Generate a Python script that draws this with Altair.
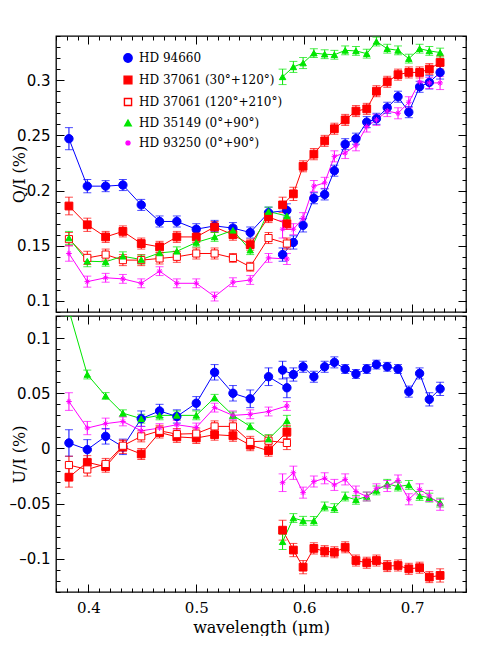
import altair as alt
import pandas as pd

# ---------------- data ----------------
series_names = ["HD 94660", "HD 37061 (30°+120°)", "HD 37061 (120°+210°)",
                "HD 35149 (0°+90°)", "HD 93250 (0°+90°)"]
stroke_colors = ["#0000ff", "#ff0000", "#ff0000", "#00e600", "#ff00ff"]
fill_colors = ["#0000ff", "#ff0000", "#ffffff", "#00e600", "#ff00ff"]
asterisk = "M-1,0L1,0M0,-1L0,1M-0.7,-0.7L0.7,0.7M-0.7,0.7L0.7,-0.7"
shapes = ["circle", "square", "square", "triangle-up", asterisk]
sizes = [70, 32, 30, 42, 100]
stroke_widths = [1, 1, 1.2, 1, 1.6]

# wavelengths (micron) of the blue-arm and red-arm points
wl_blue = [0.382, 0.399, 0.416, 0.432, 0.449, 0.466, 0.482, 0.500, 0.517, 0.534, 0.550, 0.567, 0.584]
wl_red = [0.580, 0.590, 0.599, 0.609, 0.619, 0.628, 0.638, 0.648, 0.658, 0.667, 0.677, 0.687,
          0.697, 0.707, 0.716, 0.726]

# Q/I (%)
q_94660_b = [0.247, 0.204, 0.204, 0.205, 0.187, 0.172, 0.172, 0.165, 0.168, 0.166, 0.162, 0.180, 0.182]
q_94660_r = [0.142, 0.153, 0.1685, 0.193, 0.1965, 0.218, 0.242, 0.247, 0.262, 0.265, 0.275, 0.285,
             0.271, 0.294, 0.298, 0.307]
q_37061a_b = [0.186, 0.169, 0.158, 0.163, 0.152, 0.149, 0.158, 0.158, 0.167, 0.160, 0.151, 0.176, 0.170]
q_37061a_r = [0.187, 0.197, 0.222, 0.233, 0.245, 0.256, 0.264, 0.272, 0.274, 0.290, 0.2985, 0.305,
              0.307, 0.307, 0.310, 0.316]
q_37061b_b = [0.156, 0.139, 0.142, 0.137, 0.137, 0.1385, 0.140, 0.143, 0.143, 0.139, 0.131, 0.157, 0.152]
q_35149_b = [0.157, 0.136, 0.1355, 0.1405, 0.1375, 0.1435, 0.145, 0.153, 0.158, 0.164, 0.146, 0.181, 0.177]
q_35149_r = [0.303, 0.312, 0.3155, 0.3245, 0.3235, 0.323, 0.327, 0.3265, 0.324, 0.335, 0.3285, 0.327,
             0.3195, 0.3285, 0.3265, 0.325]
q_93250_b = [0.143, 0.1175, 0.121, 0.120, 0.116, 0.127, 0.116, 0.116, 0.104, 0.117, 0.119, 0.139, 0.138]
q_93250_r = [0.165, 0.165, 0.175, 0.204, 0.207, 0.231, 0.234, 0.241, 0.258, 0.264, 0.272, 0.270,
             0.280, 0.2985, 0.2975, 0.2975]

# Q/I errors
eq_94660_b = [0.010, 0.006, 0.005, 0.005, 0.005, 0.005, 0.005, 0.005, 0.005, 0.005, 0.005, 0.005, 0.006]
eq_94660_r = [0.006, 0.006, 0.006, 0.005, 0.005, 0.005, 0.005, 0.005, 0.005, 0.005, 0.005, 0.005,
              0.005, 0.005, 0.006, 0.006]
eq_37061a_b = [0.008, 0.006, 0.005, 0.005, 0.005, 0.005, 0.005, 0.005, 0.005, 0.005, 0.005, 0.005, 0.005]
eq_37061a_r = [0.007, 0.006, 0.005, 0.005, 0.005, 0.005, 0.005, 0.005, 0.005, 0.005, 0.005, 0.005,
               0.005, 0.005, 0.005, 0.006]
eq_37061b_b = [0.006, 0.006, 0.005, 0.005, 0.005, 0.005, 0.005, 0.005, 0.005, 0.004, 0.004, 0.005, 0.005]
eq_35149_b = [0.006, 0.005, 0.004, 0.004, 0.004, 0.004, 0.004, 0.004, 0.004, 0.004, 0.004, 0.004, 0.004]
eq_35149_r = [0.007, 0.005, 0.005, 0.004, 0.004, 0.004, 0.004, 0.004, 0.004, 0.004, 0.004, 0.004,
              0.004, 0.004, 0.004, 0.004]
eq_93250_b = [0.007, 0.005, 0.004, 0.004, 0.004, 0.004, 0.004, 0.004, 0.004, 0.004, 0.004, 0.004, 0.005]
eq_93250_r = [0.008, 0.005, 0.005, 0.005, 0.005, 0.005, 0.005, 0.005, 0.005, 0.005, 0.005, 0.005,
              0.005, 0.005, 0.005, 0.006]

# U/I (%)
u_94660_b = [0.005, -0.001, 0.011, 0.0015, 0.027, 0.034, 0.029, 0.041, 0.069, 0.050, 0.045, 0.065, 0.055]
u_94660_r = [0.071, 0.067, 0.074, 0.065, 0.074, 0.078, 0.072, 0.0675, 0.072, 0.076, 0.074, 0.072,
             0.0515, 0.068, 0.0445, 0.054]
u_37061a_b = [-0.026, -0.0125, -0.0165, 0.0015, -0.005, 0.0145, 0.0105, 0.0095, 0.0125, 0.0115, 0.003,
              -0.002, 0.015]
u_37061a_r = [-0.074, -0.092, -0.1075, -0.0905, -0.093, -0.094, -0.0895, -0.1015, -0.1035, -0.1015,
              -0.1065, -0.106, -0.109, -0.108, -0.1165, -0.115]
u_37061b_b = [-0.015, -0.019, -0.014, 0.0025, 0.011, 0.016, 0.013, 0.0135, 0.020, 0.020, 0.006, 0.007, 0.005]
u_35149_b = [0.125, 0.067, 0.0476, 0.032, 0.027, 0.030, 0.030, 0.030, 0.046, 0.030, 0.020, 0.0085, 0.025]
u_35149_r = [-0.0845, -0.063, -0.0655, -0.0655, -0.0525, -0.054, -0.0435, -0.0465, -0.0435, -0.038,
             -0.032, -0.0345, -0.033, -0.043, -0.0445, -0.049]
u_93250_b = [0.0425, 0.0185, 0.0225, 0.0245, 0.016, 0.0185, 0.0215, 0.019, 0.037, 0.030, 0.031, 0.0335, 0.0385]
u_93250_r = [-0.031, -0.022, -0.040, -0.030, -0.027, -0.033, -0.028, -0.039, -0.0435, -0.036, -0.034,
             -0.029, -0.046, -0.037, -0.043, -0.051]

# U/I errors
eu_94660_b = [0.012, 0.009, 0.007, 0.007, 0.007, 0.006, 0.006, 0.006, 0.007, 0.007, 0.008, 0.008, 0.009]
eu_94660_r = [0.008, 0.006, 0.005, 0.005, 0.005, 0.005, 0.004, 0.004, 0.004, 0.004, 0.004, 0.004,
              0.005, 0.005, 0.006, 0.006]
eu_37061a_b = [0.009, 0.006, 0.005, 0.006, 0.005, 0.005, 0.005, 0.005, 0.005, 0.005, 0.005, 0.005, 0.006]
eu_37061a_r = [0.009, 0.006, 0.006, 0.005, 0.005, 0.005, 0.005, 0.005, 0.005, 0.005, 0.005, 0.005,
               0.005, 0.005, 0.005, 0.006]
eu_37061b_b = [0.008, 0.006, 0.005, 0.005, 0.005, 0.005, 0.005, 0.005, 0.005, 0.005, 0.005, 0.005, 0.006]
eu_35149_b = [0.005, 0.004, 0.003, 0.003, 0.004, 0.004, 0.004, 0.004, 0.003, 0.003, 0.003, 0.004, 0.005]
eu_35149_r = [0.007, 0.004, 0.004, 0.004, 0.004, 0.004, 0.004, 0.004, 0.004, 0.004, 0.004, 0.004,
              0.004, 0.004, 0.004, 0.004]
eu_93250_b = [0.008, 0.006, 0.005, 0.004, 0.004, 0.004, 0.004, 0.004, 0.004, 0.004, 0.004, 0.004, 0.004]
eu_93250_r = [0.008, 0.006, 0.005, 0.005, 0.005, 0.005, 0.005, 0.005, 0.004, 0.004, 0.005, 0.005,
              0.005, 0.005, 0.005, 0.005]

# axis tick values
x_major = [0.4, 0.5, 0.6, 0.7]
x_minor = [round(0.37 + 0.01 * i, 2) for i in range(39)]
yq_major = [0.1, 0.15, 0.2, 0.25, 0.3]
yq_minor = [round(0.09 + 0.01 * i, 2) for i in range(26)]
yu_major = [-0.1, -0.05, 0.0, 0.05, 0.1]
yu_minor = [round(-0.13 + 0.01 * i, 2) for i in range(26)]

# ---------------- table ----------------
rows = []
def add(name, arm, wls, q, eq, u, eu):
    for w, a, b, c, d in zip(wls, q, eq, u, eu):
        rows.append(dict(series=name, arm=arm, wl=w, q=a, eq=b, u=c, eu=d))

add(series_names[0], "b", wl_blue, q_94660_b, eq_94660_b, u_94660_b, eu_94660_b)
add(series_names[0], "r", wl_red, q_94660_r, eq_94660_r, u_94660_r, eu_94660_r)
add(series_names[1], "b", wl_blue, q_37061a_b, eq_37061a_b, u_37061a_b, eu_37061a_b)
add(series_names[1], "r", wl_red, q_37061a_r, eq_37061a_r, u_37061a_r, eu_37061a_r)
add(series_names[2], "b", wl_blue, q_37061b_b, eq_37061b_b, u_37061b_b, eu_37061b_b)
add(series_names[3], "b", wl_blue, q_35149_b, eq_35149_b, u_35149_b, eu_35149_b)
add(series_names[3], "r", wl_red, q_35149_r, eq_35149_r, u_35149_r, eu_35149_r)
add(series_names[4], "b", wl_blue, q_93250_b, eq_93250_b, u_93250_b, eu_93250_b)
add(series_names[4], "r", wl_red, q_93250_r, eq_93250_r, u_93250_r, eu_93250_r)
df = pd.DataFrame(rows)

# ---------------- chart ----------------
W, H = 410, 276
xscale = alt.Scale(domain=[0.37, 0.75], nice=False, zero=False)
stroke_scale = alt.Scale(domain=series_names, range=stroke_colors)
fill_scale = alt.Scale(domain=series_names, range=fill_colors)
shape_scale = alt.Scale(domain=series_names, range=shapes)
size_scale = alt.Scale(domain=series_names, range=sizes)
sw_scale = alt.Scale(domain=series_names, range=stroke_widths)


def tick_axis(orient, offset, values, size):
    return alt.Axis(orient=orient, offset=offset, values=values, tickSize=size, ticks=True,
                    labels=False, domain=False, grid=False, title=None,
                    tickColor="black", tickWidth=1)


def panel(val, err, ydomain, ymajor, yminor, ytitle, xlabels, legend):
    yscale = alt.Scale(domain=ydomain, nice=False, zero=False)
    base = alt.Chart(df).transform_calculate(
        lo=f"datum.{val} - datum.{err}", hi=f"datum.{val} + datum.{err}")
    X = alt.X("wl:Q", scale=xscale, axis=None)
    Y = alt.Y(f"{val}:Q", scale=yscale, axis=None)
    col = alt.Color("series:N", scale=stroke_scale, legend=None)

    lines = base.mark_line(strokeWidth=1, clip=True).encode(x=X, y=Y, color=col, detail="arm:N")
    bars = base.mark_rule(strokeWidth=1, clip=True).encode(
        x=X, y=alt.Y("lo:Q", scale=yscale, axis=None), y2="hi:Q", color=col)
    cap_lo = base.mark_tick(orient="horizontal", size=8, thickness=1, clip=True).encode(
        x=X, y=alt.Y("lo:Q", scale=yscale, axis=None), color=col)
    cap_hi = base.mark_tick(orient="horizontal", size=8, thickness=1, clip=True).encode(
        x=X, y=alt.Y("hi:Q", scale=yscale, axis=None), color=col)

    if legend:
        leg = alt.Legend(title=None, orient="none", legendX=66, legendY=16,
                         labelFont="DejaVu Serif", labelFontSize=12, labelColor="black",
                         rowPadding=8, labelOffset=5, symbolStrokeWidth=1.4)
    else:
        leg = None
    pts = base.mark_point(opacity=1, fillOpacity=1, clip=True).encode(
        x=X, y=Y,
        stroke=alt.Stroke("series:N", scale=stroke_scale, legend=leg),
        fill=alt.Fill("series:N", scale=fill_scale, legend=leg),
        shape=alt.Shape("series:N", scale=shape_scale, legend=leg),
        size=alt.Size("series:N", scale=size_scale, legend=leg),
        strokeWidth=alt.StrokeWidth("series:N", scale=sw_scale, legend=None),
    )

    def ax_layer(xax, yax):
        return alt.Chart(df).mark_point(opacity=0, size=1, clip=True).encode(
            x=alt.X("wl:Q", scale=xscale, axis=xax),
            y=alt.Y(f"{val}:Q", scale=yscale, axis=yax))

    if xlabels:
        xlab = alt.Axis(orient="bottom", values=x_major, ticks=False, domain=False, grid=False,
                        format=".1f", labelFont="DejaVu Serif", labelFontSize=15,
                        labelColor="black", labelPadding=8,
                        title="wavelength (μm)", titleFont="DejaVu Serif", titleFontSize=16,
                        titleFontWeight="normal", titleColor="black", titlePadding=4)
    else:
        xlab = None
    ylab = alt.Axis(orient="left", values=ymajor, ticks=False, domain=False, grid=False,
                    format="~g", labelExpr="replace(datum.label, '\u2212', '\u2013')",
                    labelFont="DejaVu Sans", labelFontSize=15, labelColor="black",
                    labelPadding=6, title=ytitle, titleFont="DejaVu Serif", titleFontSize=16,
                    titleFontWeight="normal", titleColor="black", titleX=-29)

    axes = [
        ax_layer(xlab, ylab),
        ax_layer(tick_axis("top", -H, x_major, 8), tick_axis("right", -W, ymajor, 8)),
        ax_layer(tick_axis("top", -H, x_minor, 4), tick_axis("right", -W, yminor, 4)),
        ax_layer(tick_axis("bottom", -H, x_major, 8), tick_axis("left", -W, ymajor, 8)),
        ax_layer(tick_axis("bottom", -H, x_minor, 4), tick_axis("left", -W, yminor, 4)),
    ]
    return alt.layer(*axes, lines, bars, cap_lo, cap_hi, pts).resolve_axis(
        x="independent", y="independent").properties(width=W, height=H)


top = panel("q", "eq", [0.09, 0.34], yq_major, yq_minor, "Q/I (%)", False, True)
bottom = panel("u", "eu", [-0.13, 0.12], yu_major, yu_minor, "U/I (%)", True, False)

chart = alt.vconcat(top, bottom, spacing=0).resolve_scale(
    y="independent"
).resolve_legend(
    stroke="independent", fill="independent", shape="independent", size="independent"
).properties(
    padding={"left": 0, "top": 26, "right": 8, "bottom": 0}
).configure_view(
    stroke="black", strokeWidth=1.3
)

chart.save("out.html", embed_options={"renderer": "svg", "actions": False})
